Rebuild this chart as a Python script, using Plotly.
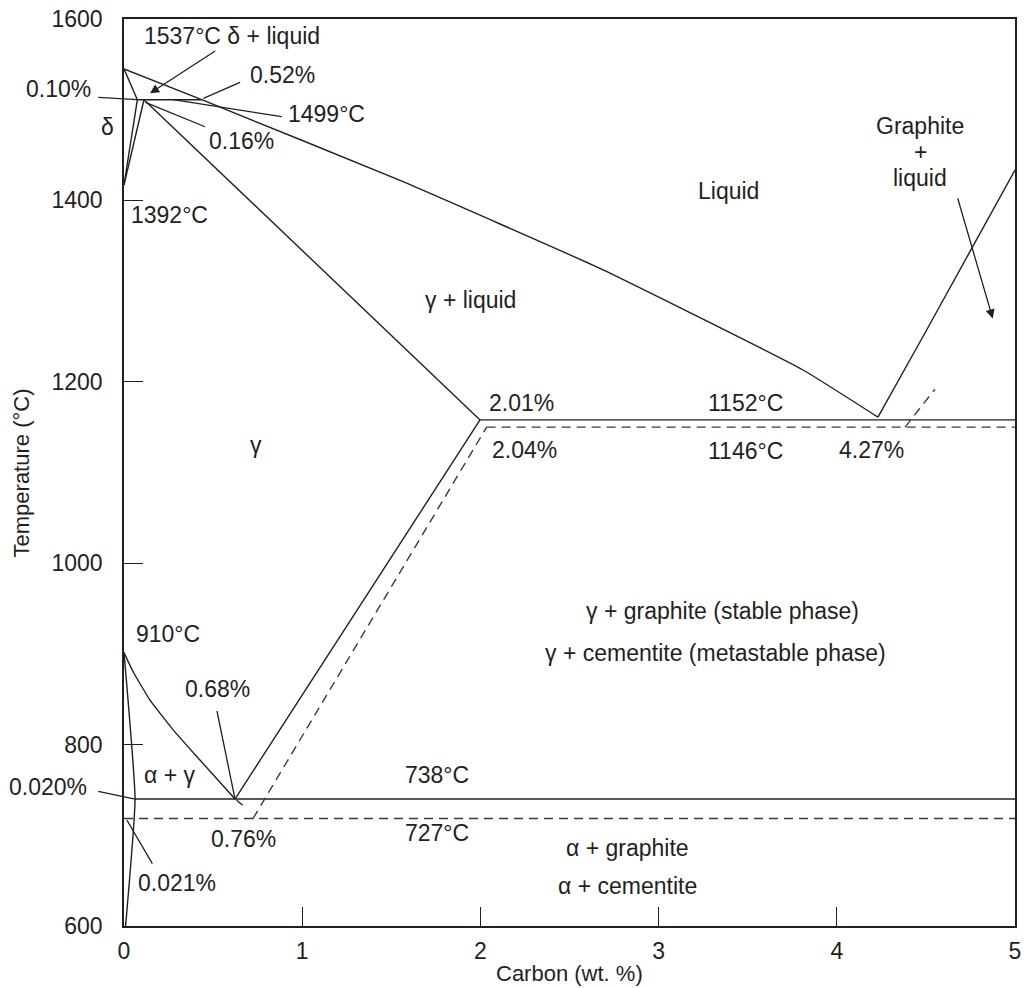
import plotly.graph_objects as go

INK = "#231f20"
DASH_INK = "#3a3a3a"
FONT = "Liberation Sans, Arial, Helvetica, sans-serif"

# ---------------- data (carbon wt.% , temperature degC) ----------------
liquidus_x = [0.0, 0.436, 1.549, 2.671, 3.810, 4.231]
liquidus_T = [1545, 1511, 1422, 1325, 1213, 1161]

delta_solidus_x = [0.0, 0.075]
delta_solidus_T = [1545, 1511]
delta_solvus_x = [0.075, 0.0]
delta_solvus_T = [1511, 1417]
gamma_delta_x = [0.112, 0.0]
gamma_delta_T = [1511, 1417]
peritectic_x = [0.075, 0.436]
peritectic_T = [1511, 1511]

gamma_solidus_x = [0.112, 1.998]
gamma_solidus_T = [1511, 1158]

eutectic_x = [1.998, 5.0]
eutectic_T = [1158, 1158]
eutectic_meta_x = [2.035, 5.0]
eutectic_meta_T = [1150, 1150]

graphite_liquidus_x = [4.231, 4.501, 5.0]
graphite_liquidus_T = [1161, 1256, 1433.5]
cementite_liquidus_x = [4.383, 4.551]
cementite_liquidus_T = [1150, 1192]

acm_x = [0.623, 1.998]
acm_T = [740, 1158]
acm_meta_x = [0.724, 2.035]
acm_meta_T = [718.5, 1150]

a3_x = [0.0, 0.052, 0.146, 0.277, 0.426, 0.623]
a3_T = [901.5, 880, 849, 816, 783, 740]

alpha_solvus_x = [0.0, 0.062, 0.009]
alpha_solvus_T = [901.5, 740, 600]

eutectoid_x = [0.062, 5.0]
eutectoid_T = [740, 740]
eutectoid_meta_x = [0.0, 5.0]
eutectoid_meta_T = [718.5, 718.5]

# leader lines: (x_from, T_from) -> (x_to, T_to)
leader_from_x = [-0.153, 0.660, 0.268, 0.112, -0.153, 0.011, 0.520, 0.623]
leader_from_T = [1513.6, 1530.9, 1511.4, 1508.8, 748.9, 718.5, 838.7, 740]
leader_to_x = [0.075, 0.445, 0.885, 0.4545, 0.062, 0.159, 0.623, 0.666]
leader_to_T = [1511, 1512.5, 1492.3, 1481.2, 740, 668.8, 740, 733]

# arrows with heads: tail -> head
arrow_tail_x = [0.520, 4.676]
arrow_tail_T = [1565.8, 1404]
arrow_head_x = [0.146, 4.875]
arrow_head_T = [1518.1, 1269.9]

# text labels
label_text = [
    "1537°C δ + liquid", "0.52%", "0.10%", "1499°C", "δ", "0.16%", "1392°C",
    "Liquid", "Graphite", "+", "liquid", "γ + liquid", "γ",
    "2.01%", "1152°C", "2.04%", "1146°C", "4.27%",
    "γ + graphite (stable phase)", "γ + cementite (metastable phase)",
    "910°C", "0.68%", "α + γ", "0.020%", "738°C", "727°C", "0.76%",
    "α + graphite", "α + cementite", "0.021%",
]
label_x = [
    0.606, 0.887, -0.370, 1.139, -0.095, 0.662, 0.258,
    3.395, 4.467, 4.467, 4.467, 1.942, 0.741,
    2.233, 3.485, 2.245, 3.485, 4.192,
    3.356, 3.320,
    0.247, 0.527, 0.258, -0.426, 1.756, 1.756, 0.673,
    2.823, 2.823, 0.297,
]
label_T = [
    1581, 1538, 1523, 1495, 1481, 1465, 1384,
    1410, 1482, 1453, 1425, 1290, 1130,
    1176.5, 1176.5, 1125, 1124, 1125,
    947, 901,
    922, 861, 766, 753, 766, 703, 696,
    686, 644, 647,
]

x_ticks = [0, 1, 2, 3, 4, 5]
y_ticks = [600, 800, 1000, 1200, 1400, 1600]
X_RANGE = [0, 5]
Y_RANGE = [600, 1600]

# ---------------- figure ----------------
fig = go.Figure()

solid_lines = [
    (liquidus_x, liquidus_T),
    (delta_solidus_x, delta_solidus_T),
    (delta_solvus_x, delta_solvus_T),
    (gamma_delta_x, gamma_delta_T),
    (peritectic_x, peritectic_T),
    (gamma_solidus_x, gamma_solidus_T),
    (eutectic_x, eutectic_T),
    (graphite_liquidus_x, graphite_liquidus_T),
    (acm_x, acm_T),
    (a3_x, a3_T),
    (alpha_solvus_x, alpha_solvus_T),
    (eutectoid_x, eutectoid_T),
]
for xs, ts in solid_lines:
    fig.add_trace(go.Scatter(x=xs, y=ts, mode="lines",
                             line=dict(color=INK, width=1.4, shape="spline", smoothing=0.4),
                             showlegend=False, hoverinfo="skip"))

dashed_lines = [
    (eutectic_meta_x, eutectic_meta_T),
    (cementite_liquidus_x, cementite_liquidus_T),
    (acm_meta_x, acm_meta_T),
    (eutectoid_meta_x, eutectoid_meta_T),
]
for xs, ts in dashed_lines:
    fig.add_trace(go.Scatter(x=xs, y=ts, mode="lines",
                             line=dict(color=DASH_INK, width=1.4, dash="9px,6px"),
                             showlegend=False, hoverinfo="skip"))

annotations = []
for x0, t0, x1, t1 in zip(leader_from_x, leader_from_T, leader_to_x, leader_to_T):
    annotations.append(dict(
        x=x1, y=t1, ax=x0, ay=t0, xref="x", yref="y", axref="x", ayref="y",
        text="", showarrow=True, arrowhead=0, arrowwidth=1.3, arrowcolor=INK,
        standoff=0, startstandoff=0))
for x0, t0, x1, t1 in zip(arrow_tail_x, arrow_tail_T, arrow_head_x, arrow_head_T):
    annotations.append(dict(
        x=x1, y=t1, ax=x0, ay=t0, xref="x", yref="y", axref="x", ayref="y",
        text="", showarrow=True, arrowhead=2, arrowsize=1.4, arrowwidth=1.3,
        arrowcolor=INK, standoff=0, startstandoff=0))
for txt, x, t in zip(label_text, label_x, label_T):
    if X_RANGE[0] <= x <= X_RANGE[1]:
        pos = dict(x=x, xref="x")
    else:
        # labels left of the axis: place in paper units so they are not hidden
        pos = dict(x=(x - X_RANGE[0]) / (X_RANGE[1] - X_RANGE[0]), xref="paper")
    annotations.append(dict(
        y=t, yref="y", text=txt, showarrow=False,
        xanchor="center", yanchor="middle",
        font=dict(family=FONT, size=23, color=INK), **pos))

annotations.append(dict(x=0.5, y=-0.052, xref="paper", yref="paper",
                        text="Carbon (wt. %)", showarrow=False,
                        xanchor="center", yanchor="middle",
                        font=dict(family=FONT, size=22, color=INK)))
annotations.append(dict(x=-0.1145, y=0.5, xref="paper", yref="paper",
                        text="Temperature (°C)", showarrow=False, textangle=-90,
                        xanchor="center", yanchor="middle",
                        font=dict(family=FONT, size=22, color=INK)))

axis_common = dict(showgrid=False, zeroline=False, showline=True, mirror=True,
                   linecolor=INK, linewidth=1.5, ticks="inside", ticklen=19,
                   tickwidth=1.3, tickcolor=INK, automargin=False,
                   tickfont=dict(family=FONT, size=23, color=INK))

fig.update_layout(
    width=1025, height=988,
    margin=dict(l=124, r=10, t=19, b=62, autoexpand=False),
    paper_bgcolor="white", plot_bgcolor="white",
    xaxis=dict(range=X_RANGE, tickvals=x_ticks, ticklabelstandoff=4, **axis_common),
    yaxis=dict(range=Y_RANGE, tickvals=y_ticks, ticklabelstandoff=15, **axis_common),
    annotations=annotations,
    showlegend=False,
)

fig.write_html("out.html",
               config={"displayModeBar": False},
               post_script="document.body.style.margin='0';document.body.style.overflow='hidden';")
